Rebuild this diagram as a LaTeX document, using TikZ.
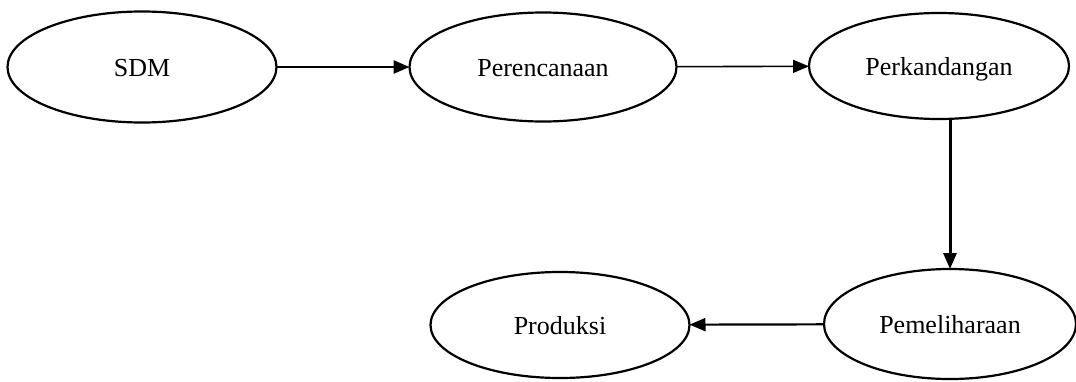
\documentclass[tikz,border=0pt]{standalone}
\usepackage{fontspec}
\setmainfont{Liberation Serif}
\usetikzlibrary{shapes.geometric,arrows.meta}
\begin{document}
\begin{tikzpicture}[x=1pt,y=-1pt,
  stage/.style={draw,ellipse,line width=2.2pt,inner sep=0pt,outer sep=0pt,
    text height=20.8pt,text depth=2.6pt,
    font=\fontsize{26}{31}\selectfont},
  flow/.style={line width=2pt,-{Triangle[length=16pt,width=13pt]}}]
\useasboundingbox (0,0) rectangle (1076,381);
\node[stage,minimum width=269pt,minimum height=111pt] (sdm) at (142,67) {SDM};
\node[stage,minimum width=267pt,minimum height=109pt] (ren) at (543,67) {Perencanaan};
\node[stage,minimum width=260pt,minimum height=106pt] (kan) at (939,66) {Perkandangan};
\node[stage,minimum width=252pt,minimum height=110pt] (pel) at (950,324) {Pemeliharaan};
\node[stage,minimum width=259pt,minimum height=106pt] (pro) at (560,325) {Produksi};
\draw[flow,line width=2.6pt] (sdm) -- (ren);
\draw[flow,line width=1.6pt] (ren) -- (kan);
\draw[flow,line width=3pt] (kan.south -| pel.north) -- (pel.north);
\draw[flow,line width=2.2pt] (pel) -- (pro);
\end{tikzpicture}
\end{document}
